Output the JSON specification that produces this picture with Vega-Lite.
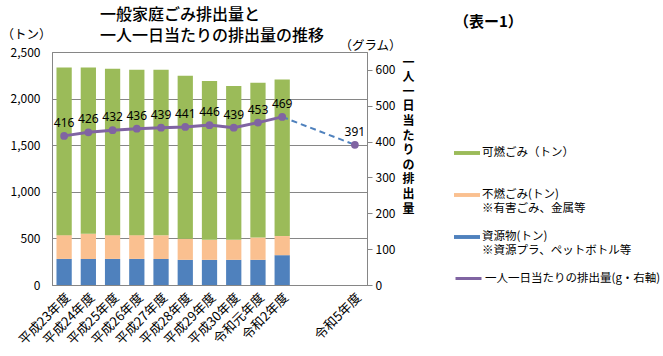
{
  "$schema": "https://vega.github.io/schema/vega-lite/v6.json",
  "width": 315,
  "height": 233,
  "autosize": {"type": "none"},
  "padding": {"left": 52, "top": 52, "right": 296, "bottom": 71},
  "background": "white",
  "config": {
    "font": "Noto Sans CJK JP",
    "view": {"stroke": "#868686", "strokeWidth": 1},
    "axis": {"labelColor": "#000", "labelFontSize": 12, "titleColor": "#000", "domainColor": "#868686", "tickColor": "#868686"}
  },
  "title": {
    "text": ["一般家庭ごみ排出量と", "一人一日当たりの排出量の推移"],
    "anchor": "start",
    "frame": "group",
    "dx": 48,
    "dy": 29,
    "fontSize": 16,
    "fontWeight": 500,
    "lineHeight": 21,
    "offset": 0,
    "color": "#000"
  },
  "datasets": {
    "bars": [
      {"year": "平成23年度", "type": "資源物(トン)", "value": 280},
      {"year": "平成23年度", "type": "不燃ごみ(トン)", "value": 255},
      {"year": "平成23年度", "type": "可燃ごみ（トン）", "value": 1800},
      {"year": "平成24年度", "type": "資源物(トン)", "value": 280},
      {"year": "平成24年度", "type": "不燃ごみ(トン)", "value": 270},
      {"year": "平成24年度", "type": "可燃ごみ（トン）", "value": 1785},
      {"year": "平成25年度", "type": "資源物(トン)", "value": 280},
      {"year": "平成25年度", "type": "不燃ごみ(トン)", "value": 255},
      {"year": "平成25年度", "type": "可燃ごみ（トン）", "value": 1785},
      {"year": "平成26年度", "type": "資源物(トン)", "value": 280},
      {"year": "平成26年度", "type": "不燃ごみ(トン)", "value": 255},
      {"year": "平成26年度", "type": "可燃ごみ（トン）", "value": 1775},
      {"year": "平成27年度", "type": "資源物(トン)", "value": 280},
      {"year": "平成27年度", "type": "不燃ごみ(トン)", "value": 255},
      {"year": "平成27年度", "type": "可燃ごみ（トン）", "value": 1775},
      {"year": "平成28年度", "type": "資源物(トン)", "value": 270},
      {"year": "平成28年度", "type": "不燃ごみ(トン)", "value": 225},
      {"year": "平成28年度", "type": "可燃ごみ（トン）", "value": 1750},
      {"year": "平成29年度", "type": "資源物(トン)", "value": 270},
      {"year": "平成29年度", "type": "不燃ごみ(トン)", "value": 215},
      {"year": "平成29年度", "type": "可燃ごみ（トン）", "value": 1705},
      {"year": "平成30年度", "type": "資源物(トン)", "value": 270},
      {"year": "平成30年度", "type": "不燃ごみ(トン)", "value": 215},
      {"year": "平成30年度", "type": "可燃ごみ（トン）", "value": 1650},
      {"year": "令和元年度", "type": "資源物(トン)", "value": 270},
      {"year": "令和元年度", "type": "不燃ごみ(トン)", "value": 240},
      {"year": "令和元年度", "type": "可燃ごみ（トン）", "value": 1660},
      {"year": "令和2年度", "type": "資源物(トン)", "value": 320},
      {"year": "令和2年度", "type": "不燃ごみ(トン)", "value": 205},
      {"year": "令和2年度", "type": "可燃ごみ（トン）", "value": 1680}
    ],
    "line": [
      {"year": "平成23年度", "g": 416},
      {"year": "平成24年度", "g": 426},
      {"year": "平成25年度", "g": 432},
      {"year": "平成26年度", "g": 436},
      {"year": "平成27年度", "g": 439},
      {"year": "平成28年度", "g": 441},
      {"year": "平成29年度", "g": 446},
      {"year": "平成30年度", "g": 439},
      {"year": "令和元年度", "g": 453},
      {"year": "令和2年度", "g": 469},
      {"year": "令和5年度", "g": 391}
    ]
  },
  "layer": [
    {
      "data": {"name": "bars"},
      "transform": [{"calculate": "indexof(['資源物(トン)','不燃ごみ(トン)','可燃ごみ（トン）'], datum.type)", "as": "ord"}],
      "mark": {"type": "bar"},
      "encoding": {
        "x": {
          "field": "year", "type": "nominal", "sort": null,
          "scale": {"domain": ["平成23年度","平成24年度","平成25年度","平成26年度","平成27年度","平成28年度","平成29年度","平成30年度","令和元年度","令和2年度","_1","_2","令和5年度"], "paddingInner": 0.37, "paddingOuter": 0.185},
          "axis": {"title": null, "labelAngle": -45, "labelExpr": "indexof(datum.label,'_')==0 ? '' : datum.label", "ticks": false, "labelPadding": 6, "labelFontSize": 13}
        },
        "y": {
          "field": "value", "type": "quantitative", "stack": "zero",
          "scale": {"domain": [0, 2500], "nice": false},
          "axis": {"values": [0,500,1000,1500,2000,2500], "format": ",d", "grid": true, "gridColor": "#868686", "ticks": false, "labelPadding": 12,
                   "title": "（トン）", "titleAngle": 0, "titleX": -26, "titleY": -18, "titleAlign": "center", "titleBaseline": "middle", "titleFontSize": 12.5, "titleFontWeight": "normal"}
        },
        "color": {
          "field": "type", "type": "nominal",
          "scale": {"domain": ["可燃ごみ（トン）","不燃ごみ(トン)","資源物(トン)"], "range": ["#9bbb59","#fac090","#4f81bd"]},
          "legend": {
            "orient": "none", "legendX": 402, "legendY": -37, "padding": 0,
            "title": "（表ー1）", "titleFontSize": 15, "titleFontWeight": "bold", "titleColor": "#000", "titlePadding": 110,
            "symbolType": "M-1,-0.15H1V0.15H-1Z", "symbolSize": 676, "symbolStrokeWidth": 0,
            "labelFontSize": 11.5, "labelColor": "#000", "labelOffset": 2, "labelLimit": 300, "rowPadding": 10,
            "labelExpr": "datum.label == '不燃ごみ(トン)' ? ['不燃ごみ(トン)','※有害ごみ、金属等'] : datum.label == '資源物(トン)' ? ['資源物(トン)','※資源プラ、ペットボトル等'] : [datum.label, ' ']"
          }
        },
        "order": {"field": "ord", "type": "quantitative"}
      }
    },
    {
      "data": {"name": "line"},
      "transform": [{"filter": "datum.year != '令和5年度'"}],
      "mark": {"type": "line", "strokeWidth": 3},
      "encoding": {
        "x": {"field": "year", "type": "nominal", "sort": null},
        "y": {
          "field": "g", "type": "quantitative",
          "scale": {"domain": [0, 650], "nice": false},
          "axis": {"orient": "right", "values": [0,100,200,300,400,500,600], "grid": false, "tickSize": 5, "labelPadding": 3,
                   "title": "（グラム）", "titleAngle": 0, "titleX": 3, "titleY": -7, "titleAlign": "center", "titleBaseline": "middle", "titleFontSize": 12.5, "titleFontWeight": "normal"}
        },
        "stroke": {
          "datum": "一人一日当たりの排出量(g・右軸)",
          "scale": {"range": ["#8064a2"]},
          "legend": {"orient": "none", "legendX": 402, "legendY": 212, "padding": 0, "title": null, "symbolType": "stroke", "symbolSize": 676, "symbolStrokeWidth": 3, "labelFontSize": 11.5, "labelColor": "#000", "labelOffset": 2, "labelLimit": 300}
        }
      }
    },
    {
      "data": {"name": "line"},
      "transform": [{"filter": "datum.year == '令和2年度' || datum.year == '令和5年度'"}],
      "mark": {"type": "line", "strokeWidth": 2, "strokeDash": [6, 4], "stroke": "#4f81bd"},
      "encoding": {
        "x": {"field": "year", "type": "nominal", "sort": null},
        "y": {
          "field": "g", "type": "quantitative",
          "scale": {"domain": [0, 650], "nice": false},
          "axis": {"orient": "right", "labels": false, "ticks": false, "domain": false, "grid": false,
                   "title": ["一","人","一","日","当","た","り","の","排","出","量"], "titleAngle": 0, "titleX": 41, "titleY": 5, "titleAlign": "center", "titleBaseline": "top", "titleFontSize": 12, "titleFontWeight": "bold", "titleLineHeight": 14.6}
        }
      }
    },
    {
      "data": {"name": "line"},
      "mark": {"type": "point", "filled": true, "size": 60, "opacity": 1, "color": "#8064a2"},
      "encoding": {
        "x": {"field": "year", "type": "nominal", "sort": null},
        "y": {"field": "g", "type": "quantitative", "scale": {"domain": [0, 650], "nice": false}, "axis": null}
      }
    },
    {
      "data": {"name": "line"},
      "mark": {"type": "text", "dy": -13, "fontSize": 12, "color": "#000", "font": "Noto Sans"},
      "encoding": {
        "x": {"field": "year", "type": "nominal", "sort": null},
        "y": {"field": "g", "type": "quantitative", "scale": {"domain": [0, 650], "nice": false}, "axis": null},
        "text": {"field": "g", "type": "quantitative"}
      }
    }
  ],
  "resolve": {"scale": {"y": "independent"}}
}
